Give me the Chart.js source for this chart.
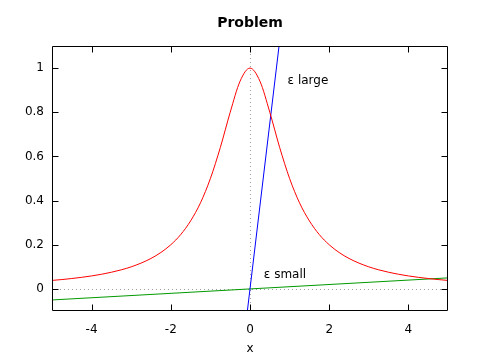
<!DOCTYPE html>
<html><head><meta charset="utf-8">
<script src="https://cdn.jsdelivr.net/npm/chart.js@4/dist/chart.umd.min.js"></script>
<style>html,body{margin:0;padding:0;background:#fff}#wrap{width:480px;height:360px}</style>
</head><body><div id="wrap"><canvas id="c" width="480" height="360"></canvas></div>
<script>
const titleText = 'Problem';
const xTicks = [-4, -2, 0, 2, 4];
const yTicks = [0, 0.2, 0.4, 0.6, 0.8, 1];
const curveX = [-5,-4.75,-4.5,-4.25,-4,-3.75,-3.5,-3.25,-3,-2.75,-2.5,-2.25,-2,-1.75,-1.5,-1.25,-1,-0.75,-0.5,-0.25,0,0.25,0.5,0.75,1,1.25,1.5,1.75,2,2.25,2.5,2.75,3,3.25,3.5,3.75,4,4.25,4.5,4.75,5];
const curveY = [0.0385,0.0424,0.0471,0.0525,0.0588,0.0664,0.0755,0.0865,0.1,0.117,0.138,0.165,0.2,0.246,0.308,0.39,0.5,0.64,0.8,0.941,1,0.941,0.8,0.64,0.5,0.39,0.308,0.246,0.2,0.165,0.138,0.117,0.1,0.0865,0.0755,0.0664,0.0588,0.0525,0.0471,0.0424,0.0385];
const largeX = [-0.2, 1.0];
const largeY = [-0.3, 1.5];
const smallX = [-5, 5];
const smallY = [-0.05, 0.05];
const labels = [{text: 'ε large', x: 0.95, y: 0.943}, {text: 'ε small', x: 0.35, y: 0.062}];

const pts = (xs, ys) => xs.map((x, i) => ({x, y: ys[i]}));
const FONT = "'DejaVu Sans', sans-serif";

const frame = {
  id: 'frame',
  beforeDatasetsDraw(chart) {
    const {ctx, chartArea: a, scales: {x, y}} = chart;
    ctx.save();
    ctx.strokeStyle = '#a0a0a0';
    ctx.lineWidth = 1;
    ctx.setLineDash([1, 3]);
    const y0 = Math.round(y.getPixelForValue(0)) + 0.5;
    const x0 = Math.round(x.getPixelForValue(0)) + 0.5;
    ctx.beginPath();
    ctx.moveTo(a.left, y0); ctx.lineTo(a.right, y0);
    ctx.moveTo(x0, a.top); ctx.lineTo(x0, a.bottom);
    ctx.stroke();
    ctx.restore();
  },
  afterDraw(chart) {
    const {ctx, chartArea: a, scales: {x, y}} = chart;
    ctx.save();
    ctx.strokeStyle = '#000';
    ctx.lineWidth = 1;
    const L = Math.round(a.left) + 0.5, R = Math.round(a.right) - 0.5;
    const T = Math.round(a.top) + 0.5, B = Math.round(a.bottom) - 0.5;
    ctx.beginPath();
    ctx.rect(L, T, R - L, B - T);
    const len = 6;
    xTicks.forEach(v => {
      const p = Math.round(x.getPixelForValue(v)) + 0.5;
      ctx.moveTo(p, B); ctx.lineTo(p, B - len);
      ctx.moveTo(p, T); ctx.lineTo(p, T + len);
    });
    yTicks.forEach(v => {
      const p = Math.round(y.getPixelForValue(v)) + 0.5;
      ctx.moveTo(L, p); ctx.lineTo(L + len, p);
      ctx.moveTo(R, p); ctx.lineTo(R - len, p);
    });
    ctx.stroke();
    ctx.fillStyle = '#000';
    ctx.font = '12px ' + FONT;
    ctx.textAlign = 'left';
    ctx.textBaseline = 'middle';
    labels.forEach(l => ctx.fillText(l.text, x.getPixelForValue(l.x), y.getPixelForValue(l.y)));
    ctx.font = 'bold 14px ' + FONT;
    ctx.textAlign = 'center';
    ctx.fillText(titleText, (a.left + a.right) / 2, 23);
    ctx.restore();
  }
};

new Chart(document.getElementById('c'), {
  type: 'scatter',
  data: {
    datasets: [
      {data: pts(curveX, curveY), showLine: true, borderColor: '#ff0000', borderWidth: 1, pointRadius: 0, cubicInterpolationMode: 'monotone'},
      {data: pts(largeX, largeY), showLine: true, borderColor: '#0000ff', borderWidth: 1, pointRadius: 0},
      {data: pts(smallX, smallY), showLine: true, borderColor: '#009900', borderWidth: 1, pointRadius: 0}
    ]
  },
  options: {
    responsive: false,
    animation: false,
    layout: {padding: {left: 0, right: 32, top: 46, bottom: 0}},
    plugins: {
      legend: {display: false},
      tooltip: {enabled: false},
      title: {display: false}
    },
    scales: {
      x: {
        type: 'linear', min: -5, max: 5,
        afterFit(s) { s.height = 49; },
        afterBuildTicks(s) { s.ticks = xTicks.map(v => ({value: v})); },
        grid: {display: false, drawTicks: false},
        border: {display: false},
        ticks: {color: '#000', font: {family: FONT, size: 12}, padding: 12, maxRotation: 0, autoSkip: false, callback: v => String(v)},
        title: {display: true, text: 'x', color: '#000', font: {family: FONT, size: 12}, padding: {top: 0, bottom: 4}}
      },
      y: {
        type: 'linear', min: -0.1, max: 1.1,
        afterFit(s) { s.width = 52; },
        afterBuildTicks(s) { s.ticks = yTicks.map(v => ({value: v})); },
        grid: {display: false, drawTicks: false},
        border: {display: false},
        ticks: {color: '#000', font: {family: FONT, size: 12}, padding: 8, autoSkip: false, callback: v => String(v)}
      }
    }
  },
  plugins: [frame]
});
</script>
</body></html>
